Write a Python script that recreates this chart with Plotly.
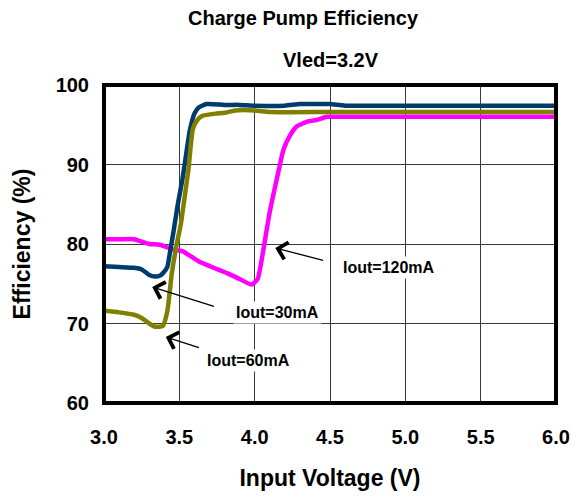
import plotly.graph_objects as go

# ---- data ----
x_30 = [3.0, 3.1, 3.2, 3.25, 3.3, 3.34, 3.37, 3.39, 3.42, 3.44, 3.46, 3.49, 3.52, 3.54,
        3.57, 3.6, 3.63, 3.68, 3.8, 3.9, 4.0, 4.2, 4.3, 4.4, 4.5, 4.6, 5.0, 5.5, 6.0]
y_30 = [77.2, 77.1, 77.0, 76.8, 76.1, 75.9, 76.0, 76.3, 77.1, 79.2, 81.4, 85.0, 88.1, 90.6,
        94.3, 96.4, 97.2, 97.6, 97.5, 97.5, 97.4, 97.4, 97.6, 97.6, 97.6, 97.4, 97.4, 97.4, 97.4]

x_60 = [3.0, 3.1, 3.2, 3.25, 3.3, 3.34, 3.39, 3.42, 3.45, 3.48, 3.51, 3.53, 3.56, 3.59,
        3.62, 3.65, 3.74, 3.8, 3.87, 4.0, 4.1, 4.5, 5.0, 5.5, 6.0]
y_60 = [71.6, 71.4, 71.1, 70.7, 70.0, 69.6, 69.7, 71.5, 76.3, 79.7, 82.5, 85.2, 89.3, 94.5,
        95.6, 96.1, 96.4, 96.5, 96.8, 96.8, 96.6, 96.6, 96.6, 96.6, 96.6]

x_120 = [3.0, 3.1, 3.2, 3.25, 3.3, 3.37, 3.46, 3.52, 3.63, 3.82, 3.9, 3.98, 4.02, 4.05,
         4.1, 4.16, 4.19, 4.23, 4.28, 4.35, 4.41, 4.48, 4.6, 5.0, 5.5, 6.0]
y_120 = [80.6, 80.6, 80.6, 80.3, 80.0, 79.9, 79.3, 79.1, 77.8, 76.3, 75.6, 74.9, 75.6, 78.4,
         84.0, 89.3, 91.8, 93.5, 94.8, 95.4, 95.6, 96.0, 96.0, 96.0, 96.0, 96.0]

x_ticks = [3.0, 3.5, 4.0, 4.5, 5.0, 5.5, 6.0]
x_tick_labels = ["3.0", "3.5", "4.0", "4.5", "5.0", "5.5", "6.0"]
y_ticks = [60, 70, 80, 90, 100]

# annotation data: label, arrow head (x, y), arrow tail (x, y), text center (x, y)
labels = ["Iout=120mA", "Iout=30mA", "Iout=60mA"]
head_x = [4.137, 3.32, 3.41]
head_y = [79.5, 74.6, 68.3]
tail_x = [4.464, 3.74, 3.64]
tail_y = [77.9, 72.1, 66.9]
text_x = [4.89, 4.15, 3.96]
text_y = [77.1, 71.4, 65.3]

FONT = "Arial, 'Liberation Sans', sans-serif"

W, H = 563, 483  # page body has an 8px margin on each side

fig = go.Figure()
fig.add_trace(go.Scatter(x=x_120, y=y_120, mode="lines", name="Iout=120mA",
                         line=dict(color="#FF00FF", width=4.5, shape="spline", smoothing=0.5)))
fig.add_trace(go.Scatter(x=x_30, y=y_30, mode="lines", name="Iout=30mA",
                         line=dict(color="#003B6E", width=4.5, shape="spline", smoothing=0.5)))
fig.add_trace(go.Scatter(x=x_60, y=y_60, mode="lines", name="Iout=60mA",
                         line=dict(color="#808000", width=4.5, shape="spline", smoothing=0.5)))

for i in range(len(labels)):
    fig.add_annotation(x=head_x[i], y=head_y[i], ax=tail_x[i], ay=tail_y[i],
                       xref="x", yref="y", axref="x", ayref="y", text="",
                       showarrow=True, arrowhead=4, arrowsize=2.6, arrowwidth=1.3,
                       arrowcolor="black")
    fig.add_annotation(x=text_x[i], y=text_y[i], xref="x", yref="y", text=labels[i],
                       showarrow=False, bgcolor="white", borderpad=2,
                       font=dict(family=FONT, size=16, color="black", weight="bold"))

fig.add_annotation(x=(331 - 104) / 452, y=(403 - 60) / 318, xref="paper", yref="paper",
                   xanchor="center", yanchor="middle", text="Vled=3.2V", showarrow=False,
                   font=dict(family=FONT, size=20, color="black", weight="bold"))

fig.add_shape(type="rect", xref="paper", yref="paper", x0=0, y0=0, x1=1, y1=1,
              line=dict(color="black", width=4), layer="above")

fig.update_layout(
    width=W, height=H,
    margin=dict(l=96, r=15, t=77, b=88, autoexpand=False),
    paper_bgcolor="white", plot_bgcolor="white",
    showlegend=False,
    title=dict(text="Charge Pump Efficiency", x=295 / W, xref="container", xanchor="center",
               y=1 - 3 / H, yref="container", yanchor="top", pad=dict(t=0, b=0),
               font=dict(family=FONT, size=20, color="black", weight="bold")),
    xaxis=dict(range=[3.0, 6.0], tickvals=x_ticks, ticktext=x_tick_labels, automargin=False,
               showgrid=True, gridcolor="#3a3a3a", gridwidth=1, zeroline=False,
               showline=False, ticks="", ticklabelstandoff=20,
               tickfont=dict(family=FONT, size=20, color="black", weight="bold"),
               title=dict(text="Input Voltage (V)", standoff=29,
                          font=dict(family=FONT, size=23, color="black", weight="bold"))),
    yaxis=dict(range=[60, 100], tickvals=y_ticks, automargin=False,
               showgrid=True, gridcolor="#3a3a3a", gridwidth=1, zeroline=False,
               showline=False, ticks="", ticklabelstandoff=14,
               tickfont=dict(family=FONT, size=20, color="black", weight="bold"),
               title=dict(text="Efficiency (%)", standoff=18,
                          font=dict(family=FONT, size=23, color="black", weight="bold"))),
)

fig.write_html("out.html")
